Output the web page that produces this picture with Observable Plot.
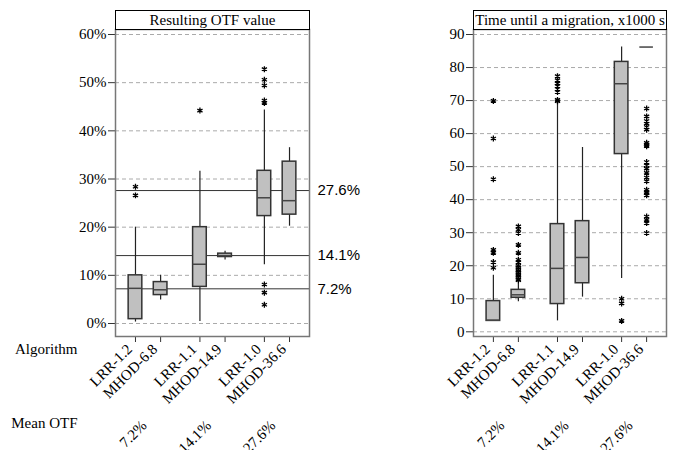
<!DOCTYPE html>
<html>
<head>
<meta charset="utf-8">
<script src="https://cdn.jsdelivr.net/npm/d3@7"></script>
<script src="https://cdn.jsdelivr.net/npm/@observablehq/plot@0.6"></script>
<style>
  html, body { margin: 0; padding: 0; background: #fff; }
  #wrap { position: relative; width: 674px; height: 450px; overflow: hidden; font-family: "Liberation Serif", serif; }
  .panel { position: absolute; top: 0; }
  .title { position: absolute; top: 10px; height: 20px; box-sizing: border-box; border: 1px solid #000; background: #fff;
           font: 15px "Liberation Serif", serif; text-align: center; line-height: 18px; color: #000; white-space: nowrap; }
</style>
</head>
<body>
<div id="wrap"></div>
<script>
// ---- data ----
const algorithms = ["LRR-1.2", "MHOD-6.8", "LRR-1.1", "MHOD-14.9", "LRR-1.0", "MHOD-36.6"];
const meanOTFLabels = ["7.2%", "14.1%", "27.6%"];
const meanOTFValues = [7.2, 14.1, 27.6];

// Resulting OTF value (%)
const otfLow    = [0.3, 4.9, 0.4, 13.2, 12.2, 20.2];
const otfQ1     = [0.9, 5.9, 7.6, 13.8, 22.3, 22.6];
const otfMedian = [7.3, 7.0, 12.3, 14.1, 26.1, 25.5];
const otfQ3     = [10.0, 8.6, 20.0, 14.5, 31.7, 33.6];
const otfHigh   = [20.0, 10.0, 31.6, 15.0, 44.3, 36.5];
const otfOutliers = [
  [28.4, 26.6],
  [],
  [44.2],
  [],
  [52.8, 50.6, 49.4, 46.3, 45.8, 8.1, 6.4, 3.9],
  []
];
const otfTicks = [0, 10, 20, 30, 40, 50, 60];

// Time until a migration, x1000 s
const timeLow    = [3.3, 9.1, 3.3, 10.5, 16.1, 86.2];
const timeQ1     = [3.3, 10.3, 8.4, 14.7, 53.8, 86.2];
const timeMedian = [3.5, 11.2, 19.2, 22.5, 75.1, 86.2];
const timeQ3     = [9.3, 12.7, 32.6, 33.5, 81.7, 86.2];
const timeHigh   = [17.1, 14.6, 69.5, 55.8, 86.2, 86.2];
const timeOutliers = [
  [69.9, 58.5, 46.2, 24.8, 23.9, 21.1, 19.4],
  [31.9, 30.9, 29.9, 26.3, 23.9, 21.8, 21.0, 20.0, 19.5, 19.0, 18.5, 18.0, 17.5, 17.0, 16.5, 16.0, 15.6],
  [77.4, 76.2, 75.2, 74.4, 73.5, 72.6, 70.2, 69.8],
  [],
  [10.0, 8.6, 3.3],
  [67.6, 65.2, 63.8, 63.0, 62.0, 61.2, 57.2, 56.6, 56.2, 51.4, 50.4, 49.4, 48.1, 46.7, 45.6, 43.0, 42.3, 42.0, 41.3, 34.9, 33.9, 32.9, 29.9]
];
const timeTicks = [0, 10, 20, 30, 40, 50, 60, 70, 80, 90];

// ---- layout helpers ----
const memberOffset = 0.39;
const halfWidth = 0.106;
const posOf = i => Math.floor(i / 2) + (i % 2) * memberOffset;
const serif = "'Liberation Serif', 'Times New Roman', serif";
const sans = "'Liberation Sans', Arial, sans-serif";

function buildRows(low, q1, med, q3, high, outs) {
  return algorithms.map((name, i) => ({name, pos: posOf(i), low: low[i], q1: q1[i], med: med[i], q3: q3[i], high: high[i], out: outs[i]}));
}

const meanRows = meanOTFLabels.map((label, g) => ({label, pos: g + memberOffset / 2}));

function panel({rows, ticks, yDomain, insetBottom, fmt, width, marginLeft, marginRight, withMeans, withRowLabels}) {
  const outs = rows.flatMap(d => d.out.map(v => ({pos: d.pos, v})));
  const marks = [
    Plot.gridY(ticks, {stroke: "#aaa", strokeOpacity: 1, strokeDasharray: "4,3"}),
  ];
  if (withMeans) {
    marks.push(Plot.ruleY(meanOTFValues, {stroke: "#333", strokeWidth: 1}));
    marks.push(Plot.text(meanOTFValues, {y: d => d, text: d => d + "%", frameAnchor: "right", dx: 8, textAnchor: "start",
      fontFamily: sans, fontSize: 15, fill: "#000", className: "sans-label"}));
  }
  marks.push(
    Plot.ruleX(rows, {x: "pos", y1: "low", y2: "q1", stroke: "#222", strokeWidth: 1.2}),
    Plot.ruleX(rows, {x: "pos", y1: "q3", y2: "high", stroke: "#222", strokeWidth: 1.2}),
    Plot.rect(rows, {x1: d => d.pos - halfWidth, x2: d => d.pos + halfWidth, y1: "q1", y2: "q3",
      fill: "#c0c0c0", stroke: "#333", strokeWidth: 1.5}),
    Plot.ruleY(rows, {y: "med", x1: d => d.pos - halfWidth, x2: d => d.pos + halfWidth, stroke: "#444", strokeWidth: 1.5}),
    Plot.dot(outs, {x: "pos", y: "v", symbol: "asterisk", r: 2.8, stroke: "#000", strokeWidth: 1.3}),
    Plot.axisY({ticks, tickFormat: fmt, tickSize: 7, tickPadding: 2, fontSize: 15, fontFamily: serif, fontVariant: "normal", label: null, stroke: "#333"}),
    Plot.axisX({ticks: rows.map(d => d.pos), tickFormat: () => "", tickSize: 6, label: null, stroke: "#333"}),
    Plot.text(rows, {x: "pos", text: "name", frameAnchor: "bottom", dx: -2.4, dy: 13.6, rotate: -45, textAnchor: "end", fontSize: 15, fontFamily: serif, fill: "#000"}),
    Plot.text(meanRows, {x: "pos", text: "label", frameAnchor: "bottom", dx: -0.5, dy: 90, rotate: -45, textAnchor: "end", fontSize: 15, fontFamily: serif, fill: "#000"}),
    Plot.frame({stroke: "#777", strokeWidth: 1.5})
  );
  if (withRowLabels) {
    marks.push(
      Plot.text(["Algorithm"], {text: d => d, frameAnchor: "bottom-left", dx: -38, dy: 17, textAnchor: "end", fontSize: 15, fontFamily: serif, fill: "#000"}),
      Plot.text(["Mean OTF"], {text: d => d, frameAnchor: "bottom-left", dx: -38, dy: 91, textAnchor: "end", fontSize: 15, fontFamily: serif, fill: "#000"})
    );
  }
  const svg = Plot.plot({
    width, height: 450,
    marginLeft, marginRight, marginTop: 29, marginBottom: 114,
    style: {fontFamily: serif, fontSize: "15px", color: "#000", background: "transparent", overflow: "visible"},
    x: {type: "linear", domain: [-0.31, 2.70]},
    y: {type: "linear", domain: yDomain, insetTop: 5, insetBottom},
    marks
  });
  // enforce the serif face on every label except the sans mean annotations
  d3.select(svg).selectAll("text").each(function () {
    const inSans = this.closest(".sans-label") || this.classList.contains("sans-label");
    this.style.fontFamily = inSans ? sans : serif;
    this.style.fontVariant = "normal";
  });
  return svg;
}

const wrap = document.getElementById("wrap");

const left = panel({
  rows: buildRows(otfLow, otfQ1, otfMedian, otfQ3, otfHigh, otfOutliers),
  ticks: otfTicks, yDomain: [0, 60], insetBottom: 13, fmt: d => d + "%",
  width: 365, marginLeft: 115, marginRight: 56, withMeans: true, withRowLabels: true
});
left.classList.add("panel"); left.style.left = "0px";
wrap.appendChild(left);

const right = panel({
  rows: buildRows(timeLow, timeQ1, timeMedian, timeQ3, timeHigh, timeOutliers),
  ticks: timeTicks, yDomain: [0, 90], insetBottom: 4.7, fmt: d => String(d),
  width: 314, marginLeft: 113, marginRight: 8, withMeans: false, withRowLabels: false
});
right.classList.add("panel"); right.style.left = "360px";
wrap.appendChild(right);

function addTitle(text, x, w) {
  const t = document.createElement("div");
  t.className = "title";
  t.style.left = x + "px";
  t.style.width = w + "px";
  t.textContent = text;
  wrap.appendChild(t);
}
addTitle("Resulting OTF value", 115, 195);
addTitle("Time until a migration, x1000 s", 473, 194);
</script>
</body>
</html>
